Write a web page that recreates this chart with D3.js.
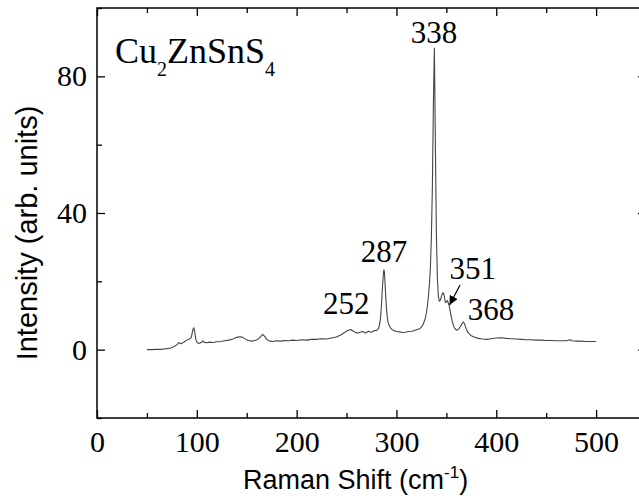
<!DOCTYPE html>
<html>
<head>
<meta charset="utf-8">
<script src="https://cdn.jsdelivr.net/npm/d3@7"></script>
<style>
  body { margin: 0; background: #fff; }
</style>
</head>
<body>
<svg id="chart"></svg>
<script>
// raman spectrum
var shifts = [50, 55, 60, 65, 70, 74, 77, 80, 82, 84, 86, 88, 90, 92, 94, 95, 96, 97, 98, 99,
  100, 102, 104, 106, 107, 110, 113, 116, 120, 124, 128, 132, 136, 140, 143, 146, 149, 152, 155, 158,
  161, 164, 166, 168, 170, 173, 176, 180, 184, 188, 192, 196, 200, 205, 210, 215, 220, 225, 230, 235,
  240, 244, 248, 251, 254, 257, 260, 263, 266, 269, 272, 275, 278, 280, 282, 283, 284, 285, 286, 287,
  287.5, 288, 289, 290, 291, 292, 294, 296, 298, 300, 303, 306, 309, 312, 315, 318, 321, 323, 325, 327,
  329, 330, 331, 332, 333, 334, 335, 336, 337, 338, 339, 340, 341, 342, 343, 344, 345, 346, 347, 348,
  349, 350, 351, 352, 353, 354, 355, 356, 357, 358, 360, 362, 364, 366, 367, 368, 369, 370, 372, 375,
  378, 382, 386, 390, 395, 400, 405, 410, 415, 420, 425, 430, 435, 440, 445, 450, 455, 460, 465, 470,
  474, 476, 480, 485, 490, 495, 500];
var intensity = [0.0, 0.0, 0.1, 0.1, 0.3, 0.5, 0.9, 1.4, 2.1, 1.7, 2.0, 2.4, 2.8, 3.0, 3.4, 4.3, 5.8, 6.4, 5.0, 3.1,
  2.2, 1.8, 2.0, 2.6, 2.2, 2.0, 2.2, 2.1, 2.3, 2.4, 2.6, 2.8, 3.1, 3.6, 3.8, 3.6, 3.0, 2.7, 2.5, 2.7,
  3.0, 3.8, 4.5, 3.9, 3.0, 2.5, 2.4, 2.6, 2.5, 2.7, 2.6, 2.8, 2.7, 2.9, 2.8, 3.0, 3.0, 3.2, 3.1, 3.4,
  3.7, 4.3, 5.0, 5.6, 5.9, 5.4, 4.9, 5.0, 5.3, 4.9, 5.4, 5.1, 5.6, 5.6, 6.2, 7.2, 9.2, 13.0, 18.5, 22.6,
  23.4, 22.5, 17.0, 12.0, 9.0, 7.6, 6.4, 5.8, 5.5, 5.3, 5.2, 5.0, 5.1, 5.3, 5.4, 5.6, 5.9, 6.1, 6.6, 7.6,
  9.3, 10.8, 12.8, 15.5, 19.0, 24.0, 33.0, 48.0, 72.0, 88.3, 60.0, 34.0, 21.0, 15.5, 14.2, 14.5, 15.5, 16.4, 16.7, 15.5,
  13.8, 14.0, 14.4, 13.6, 12.6, 11.0, 9.5, 8.2, 7.2, 6.4, 5.7, 5.9, 6.7, 7.8, 8.1, 7.7, 6.9, 6.0, 4.9, 4.1,
  3.7, 3.3, 3.1, 3.0, 3.2, 3.4, 3.5, 3.3, 3.2, 3.1, 3.0, 2.9, 2.9, 2.8, 2.8, 2.7, 2.7, 2.6, 2.6, 2.6,
  2.9, 2.6, 2.5, 2.5, 2.4, 2.4, 2.4];

var xMajorTicks = [0, 100, 200, 300, 400, 500];
var xMinorTicks = [50, 150, 250, 350, 450, 550];
var yMajorTicks = [0, 40, 80];
var yMinorTicks = [-20, 20, 60, 100];

// peak labels: text, x position (cm-1), baseline (intensity)
var peakNames = ["338", "287", "252", "351", "368"];
var peakX = [337.7, 287.6, 249.8, 376.5, 394.8];
var peakY = [89.9, 25.8, 10.4, 20.6, 8.7];

var width = 639;
var height = 498;

var svg = d3.select("#chart")
    .attr("width", width)
    .attr("height", height);

var x = d3.scaleLinear().domain([0, 550]).range([97, 646]);
var y = d3.scaleLinear().domain([-20, 100]).range([418, 8]);

var serif = "'Liberation Serif', Tinos, 'Times New Roman', Times, 'DejaVu Serif', serif";
var sans = "'Liberation Sans', Arial, sans-serif";

// frame -------------------------------------------------------------
svg.append("rect")
    .attr("x", x(0))
    .attr("y", y(100))
    .attr("width", x(550) - x(0))
    .attr("height", y(-20) - y(100))
    .attr("fill", "none")
    .attr("stroke", "#000")
    .attr("stroke-width", 1.5);

// axes (ticks point inward)
function styleAxis(g) {
    g.attr("font-family", null).attr("font-size", null);
    g.select(".domain").remove();
    g.selectAll(".tick line").attr("stroke", "#000").attr("stroke-width", 1.3);
    g.selectAll(".tick text")
        .attr("fill", "#000")
        .attr("font-family", serif)
        .attr("font-size", 30);
}

svg.append("g")
    .attr("transform", "translate(0," + y(-20) + ")")
    .call(d3.axisBottom(x).tickValues(xMajorTicks).tickSizeInner(-8).tickSizeOuter(0).tickPadding(13))
    .call(styleAxis);
svg.append("g")
    .attr("transform", "translate(0," + y(-20) + ")")
    .call(d3.axisBottom(x).tickValues(xMinorTicks).tickSizeInner(-5).tickSizeOuter(0).tickFormat(""))
    .call(styleAxis);
svg.append("g")
    .attr("transform", "translate(0," + y(100) + ")")
    .call(d3.axisTop(x).tickValues(xMajorTicks).tickSizeInner(-8).tickSizeOuter(0).tickFormat(""))
    .call(styleAxis);
svg.append("g")
    .attr("transform", "translate(0," + y(100) + ")")
    .call(d3.axisTop(x).tickValues(xMinorTicks).tickSizeInner(-5).tickSizeOuter(0).tickFormat(""))
    .call(styleAxis);

svg.append("g")
    .attr("transform", "translate(" + x(0) + ",0)")
    .call(d3.axisLeft(y).tickValues(yMajorTicks).tickSizeInner(-8).tickSizeOuter(0).tickPadding(10))
    .call(styleAxis);
svg.append("g")
    .attr("transform", "translate(" + x(0) + ",0)")
    .call(d3.axisLeft(y).tickValues(yMinorTicks).tickSizeInner(-5).tickSizeOuter(0).tickFormat(""))
    .call(styleAxis);
svg.append("g")
    .attr("transform", "translate(" + x(550) + ",0)")
    .call(d3.axisRight(y).tickValues(yMajorTicks).tickSizeInner(-8).tickSizeOuter(0).tickFormat(""))
    .call(styleAxis);
svg.append("g")
    .attr("transform", "translate(" + x(550) + ",0)")
    .call(d3.axisRight(y).tickValues(yMinorTicks).tickSizeInner(-5).tickSizeOuter(0).tickFormat(""))
    .call(styleAxis);

// axis titles
var xTitle = svg.append("text")
    .attr("x", 243)
    .attr("y", 489)
    .attr("fill", "#000")
    .attr("font-family", sans)
    .attr("font-size", 27);
xTitle.append("tspan").text("Raman Shift (cm");
xTitle.append("tspan").attr("dy", -11).attr("font-size", 17).text("-1");
xTitle.append("tspan").attr("dy", 11).text(")");

svg.append("text")
    .attr("transform", "translate(37,233) rotate(-90)")
    .attr("text-anchor", "middle")
    .attr("fill", "#000")
    .attr("font-family", sans)
    .attr("font-size", 29)
    .text("Intensity (arb. units)");

// spectrum -----------------------------------------------------------
var line = d3.line()
    .x(function (d, i) { return x(shifts[i]); })
    .y(function (d, i) { return y(intensity[i]); });

svg.append("path")
    .datum(shifts)
    .attr("d", line)
    .attr("fill", "none")
    .attr("stroke", "#444")
    .attr("stroke-width", 1.1)
    .attr("stroke-linejoin", "round");

// peak labels
svg.append("g").selectAll("text")
    .data(peakNames)
    .enter()
    .append("text")
    .attr("x", function (d, i) { return x(peakX[i]); })
    .attr("y", function (d, i) { return y(peakY[i]); })
    .attr("text-anchor", "middle")
    .attr("fill", "#000")
    .attr("font-family", serif)
    .attr("font-size", 31)
    .text(function (d) { return d; });

// arrow for 351
svg.append("defs").append("marker")
    .attr("id", "head")
    .attr("viewBox", "0 0 10 10")
    .attr("refX", 10)
    .attr("refY", 5)
    .attr("markerWidth", 9)
    .attr("markerHeight", 9)
    .attr("markerUnits", "userSpaceOnUse")
    .attr("orient", "auto")
    .append("path")
    .attr("d", "M0,0 L10,5 L0,10 z")
    .attr("fill", "#000");

svg.append("line")
    .attr("x1", x(363.7))
    .attr("y1", y(18.9))
    .attr("x2", x(353.2))
    .attr("y2", y(13.1))
    .attr("stroke", "#000")
    .attr("stroke-width", 1.2)
    .attr("marker-end", "url(#head)");

// sample name
var sampleLabel = svg.append("text")
    .attr("x", x(18))
    .attr("y", y(83.8))
    .attr("fill", "#000")
    .attr("font-family", serif)
    .attr("font-size", 36);
sampleLabel.append("tspan").text("Cu");
sampleLabel.append("tspan").attr("dy", 13).attr("font-size", 20).text("2");
sampleLabel.append("tspan").attr("dy", -13).text("ZnSnS");
sampleLabel.append("tspan").attr("dy", 13).attr("font-size", 20).text("4");
</script>
</body>
</html>
